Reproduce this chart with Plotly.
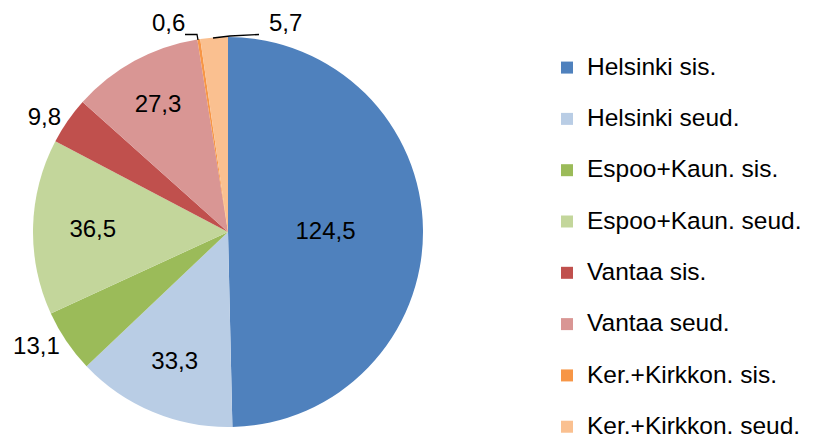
import plotly.graph_objects as go

labels = ["Helsinki sis.", "Helsinki seud.", "Espoo+Kaun. sis.", "Espoo+Kaun. seud.",
          "Vantaa sis.", "Vantaa seud.", "Ker.+Kirkkon. sis.", "Ker.+Kirkkon. seud."]
values = [124.5, 33.3, 13.1, 36.5, 9.8, 27.3, 0.6, 5.7]
colors = ["#4F81BD", "#B9CDE5", "#9BBB59", "#C3D69B", "#C0504D", "#D99694", "#F79646", "#FAC090"]
positions = ["inside", "inside", "outside", "inside", "outside", "inside", "none", "none"]

W, H = 820, 438
FONT = "Liberation Sans, Arial, sans-serif"

def px(x):
    return x / W

def py(y):
    return 1 - y / H

def fmt(v):
    return f"{v:.1f}".replace(".", ",")

# two-line legend entries (text on first line) give the wide row spacing
legend_labels = ['<span style="font-size:24.5px">%s</span><br> ' % l for l in labels]

fig = go.Figure(go.Pie(
    labels=legend_labels,
    values=values,
    sort=False,
    direction="clockwise",
    rotation=0,
    marker=dict(colors=colors, line=dict(width=0)),
    texttemplate="%{value:.1f}",
    textposition=positions,
    insidetextorientation="horizontal",
    textfont=dict(family=FONT, size=24, color="black"),
    domain=dict(x=[px(33), px(423)], y=[py(427), py(37)]),
    hoverinfo="value+percent",
))

# labels for the two thin top slices, with leader lines
fig.add_annotation(x=px(168), y=py(22), xref="paper", yref="paper", text=fmt(values[6]),
                   xanchor="center", yanchor="middle",
                   showarrow=False, font=dict(family=FONT, size=24, color="black"))
fig.add_annotation(x=px(285), y=py(22), xref="paper", yref="paper", text=fmt(values[7]),
                   xanchor="center", yanchor="middle",
                   showarrow=False, font=dict(family=FONT, size=24, color="black"))

def path(points):
    return "M " + " L ".join(f"{px(a)},{py(b)}" for a, b in points)

fig.add_shape(type="path", xref="paper", yref="paper",
              path=path([(185, 34.5), (197, 34.5), (198, 40)]),
              line=dict(color="black", width=1.3))
fig.add_shape(type="path", xref="paper", yref="paper",
              path=path([(213, 38), (230, 36), (259, 34.5)]),
              line=dict(color="black", width=1.3))

fig.update_layout(
    width=W, height=H,
    margin=dict(l=0, r=0, t=0, b=0, autoexpand=False),
    paper_bgcolor="white",
    separators=", ",
    font=dict(family=FONT, color="black"),
    legend=dict(
        x=px(547), y=py(49), xanchor="left", yanchor="top",
        font=dict(size=18.58, family=FONT, color="black"),
        itemwidth=30,
        valign="top",
    ),
)

fig.write_html("out.html", config={"displayModeBar": False},
               post_script="document.body.style.margin='0';")
